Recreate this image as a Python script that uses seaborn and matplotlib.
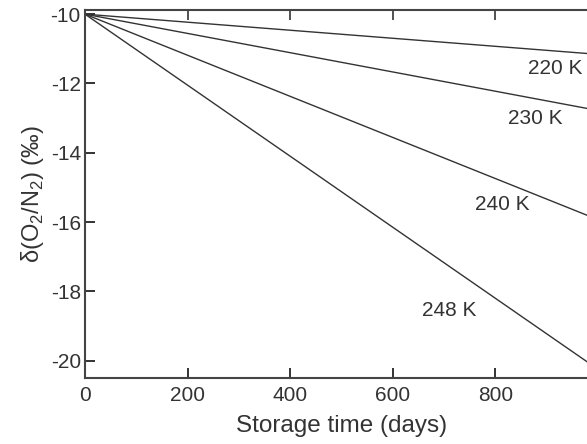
import numpy as np
import pandas as pd
import matplotlib
matplotlib.use("Agg")
import matplotlib.pyplot as plt
import seaborn as sns

# storage time (days) and d(O2/N2) at each end of the lines
days = [0, 1000]
d_220 = [-10.0, -11.16]
d_230 = [-10.0, -12.78]
d_240 = [-10.0, -15.93]
d_248 = [-10.0, -20.25]
temps = ["220 K", "230 K", "240 K", "248 K"]

# label positions (days, permil)
label_x = [916, 877, 813, 710]
label_y = [-11.56, -13.0, -15.5, -18.56]

# tick positions
x_ticks = [0, 200, 400, 600, 800]
y_ticks = [-10, -12, -14, -16, -18, -20]

df = pd.DataFrame({
    "days": days * 4,
    "delta": d_220 + d_230 + d_240 + d_248,
    "temp": [t for t in temps for _ in days],
})

sns.set_style("ticks")
plt.rcParams.update({
    "font.family": ["Liberation Sans", "DejaVu Sans"],
    "axes.unicode_minus": False,
    "mathtext.fontset": "custom",
    "mathtext.rm": "Liberation Sans",
    "xtick.direction": "in", "ytick.direction": "in",
    "xtick.top": True, "xtick.bottom": True,
    "ytick.left": True, "ytick.right": True,
    "xtick.major.size": 7, "ytick.major.size": 7,
    "xtick.major.width": 1.2, "ytick.major.width": 1.2,
    "xtick.color": "#333333", "ytick.color": "#333333",
    "xtick.labelsize": 15, "ytick.labelsize": 15,
    "xtick.major.pad": 6, "ytick.major.pad": 3,
})

fig = plt.figure(figsize=(5.87, 4.44), dpi=100)
ax = fig.add_axes([85 / 587, 66 / 444, 513 / 587, 368 / 444])

ax.set_xlim(0, 1000)
ax.set_ylim(-20.5, -9.88)
ax.set_xticks(x_ticks)
ax.set_yticks(y_ticks)

sns.lineplot(data=df, x="days", y="delta", hue="temp",
             palette=["#333333"] * 4, linewidth=1.0, legend=False, ax=ax)

for t, lx, ly in zip(temps, label_x, label_y):
    ax.text(lx, ly, t, ha="center", va="center", fontsize=15, color="#333333")

ax.set_xlim(0, 1000)
ax.set_ylim(-20.5, -9.88)
ax.tick_params(axis="both", which="major", direction="in", length=7, width=1.2,
               color="#333333", labelcolor="#333333",
               top=True, right=True, bottom=True, left=True)
for s in ax.spines.values():
    s.set_visible(True)
    s.set_color("#444444")
    s.set_linewidth(1.5)

# extra inward tick marks on bottom and left
secx = ax.secondary_xaxis("bottom")
secx.set_xticks(x_ticks)
secx.tick_params(axis="x", direction="in", length=7, width=1.2,
                 color="#333333", labelbottom=False)
secy = ax.secondary_yaxis("left")
secy.set_yticks(y_ticks)
secy.tick_params(axis="y", direction="in", length=7, width=1.2,
                 color="#333333", labelleft=False)
for sec in (secx, secy):
    for s in sec.spines.values():
        s.set_visible(False)

ax.set_xlabel("Storage time (days)", fontsize=17.5, color="#333333", labelpad=7)
ax.set_ylabel("δ(O$_2$/N$_2$) (‰)", fontsize=17, color="#333333", labelpad=3)

fig.savefig("out.png", dpi=100)
